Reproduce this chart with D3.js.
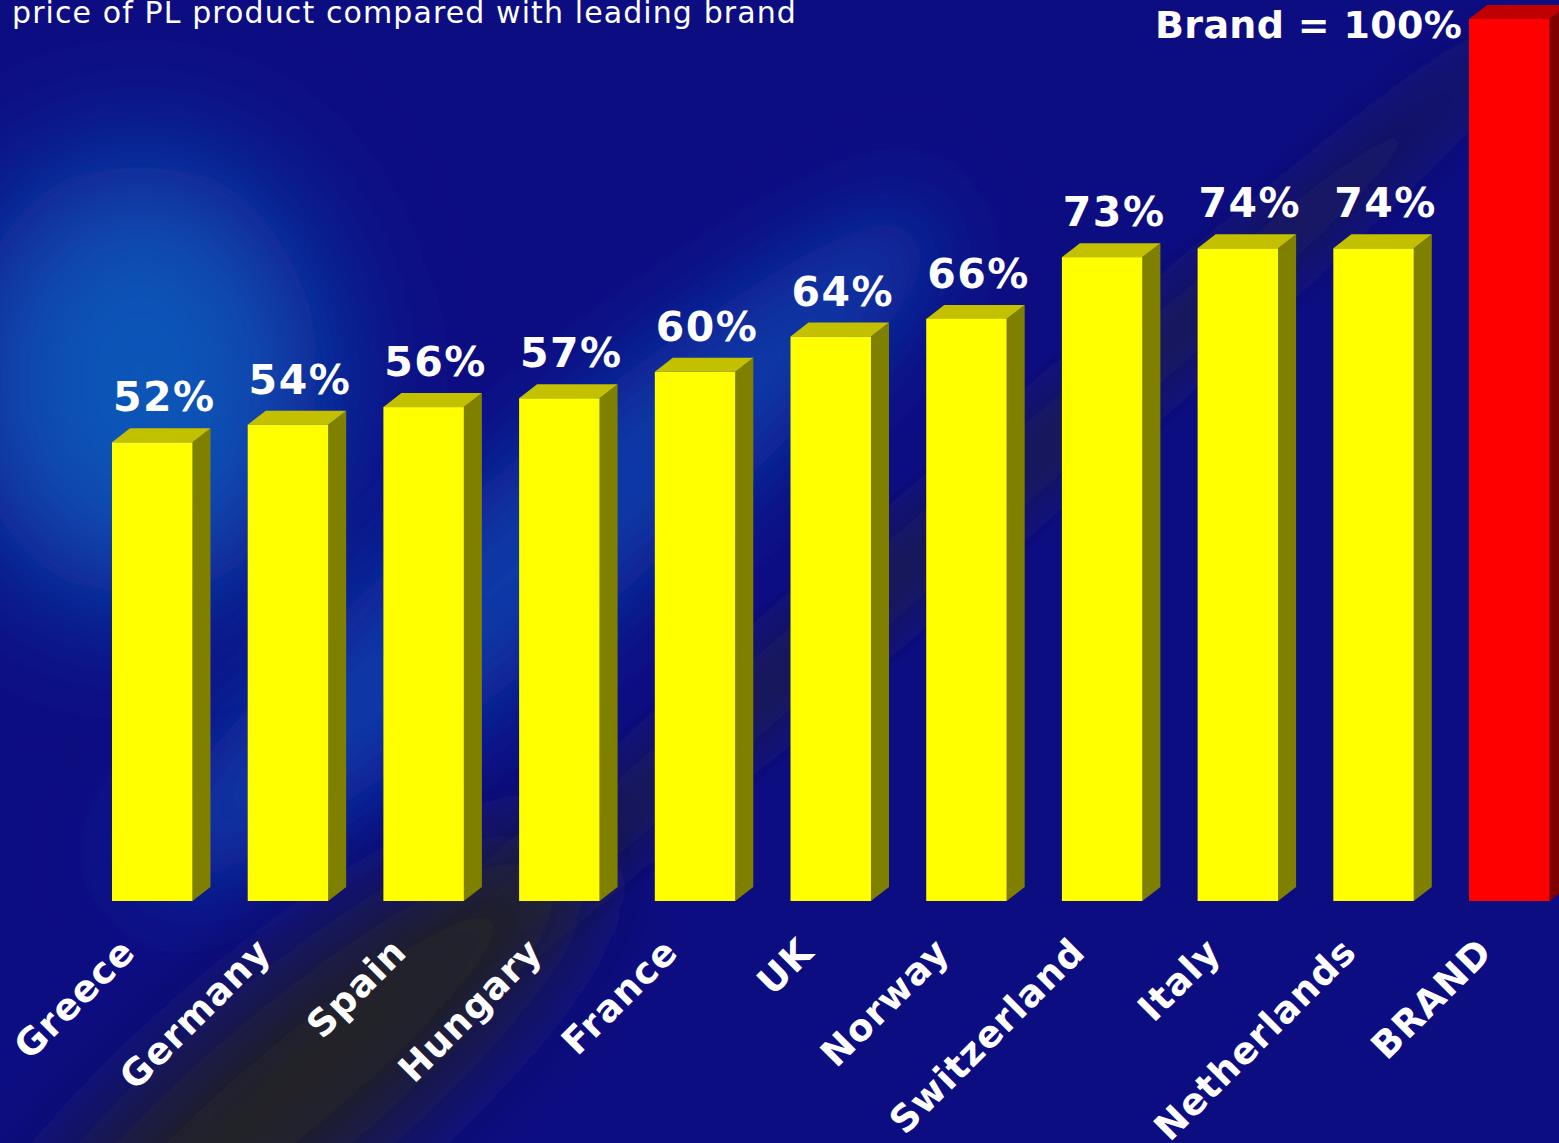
<!DOCTYPE html>
<html>
<head>
<meta charset="utf-8">
<script src="https://cdn.jsdelivr.net/npm/d3@7"></script>
<style>
  html, body { margin: 0; padding: 0; background: #0d0d80; overflow: hidden; }
  svg { display: block; }
  text { font-family: Verdana, "DejaVu Sans", sans-serif; fill: #ffffff; }
</style>
</head>
<body>
<svg id="chart"></svg>
<script>
// data
var categories = ["Greece", "Germany", "Spain", "Hungary", "France", "UK", "Norway", "Switzerland", "Italy", "Netherlands", "BRAND"];
var values = [52, 54, 56, 57, 60, 64, 66, 73, 74, 74, 100];
var valueLabels = ["52%", "54%", "56%", "57%", "60%", "64%", "66%", "73%", "74%", "74%", ""];
var titleText = "price of PL product compared with leading brand";
var brandText = "Brand = 100%";

var width = 1559, height = 1143;
var depthX = 18, depthY = 14;

var svg = d3.select("#chart")
    .attr("width", width)
    .attr("height", height);

var defs = svg.append("defs");
[["blurBig", 70], ["blurMid", 45], ["blurSmall", 28]].forEach(function (f) {
    defs.append("filter").attr("id", f[0])
        .attr("x", "-50%").attr("y", "-50%").attr("width", "200%").attr("height", "200%")
        .append("feGaussianBlur").attr("stdDeviation", f[1]);
});

// background texture (navy, light glow on the left, diagonal fold)
var bg = svg.append("g");
bg.append("rect").attr("width", width).attr("height", height).attr("fill", "#0d0d82");
bg.append("ellipse")
    .attr("cx", 540).attr("cy", 550).attr("rx", 520).attr("ry", 85)
    .attr("transform", "rotate(-40 540 550)")
    .attr("fill", "#0f3aa8").attr("filter", "url(#blurMid)");
bg.append("ellipse")
    .attr("cx", 140).attr("cy", 380).attr("rx", 180).attr("ry", 220)
    .attr("fill", "#0b55b8").attr("filter", "url(#blurBig)");
bg.append("ellipse")
    .attr("cx", 880).attr("cy", 590).attr("rx", 850).attr("ry", 32)
    .attr("transform", "rotate(-41 880 590)")
    .attr("fill", "#1c1c50").attr("filter", "url(#blurSmall)");
bg.append("ellipse")
    .attr("cx", 290).attr("cy", 1090).attr("rx", 380).attr("ry", 95)
    .attr("transform", "rotate(-40 290 1090)")
    .attr("fill", "#242428").attr("filter", "url(#blurMid)");

// scales
var x = d3.scaleBand()
    .domain(categories)
    .range([112, 1549.5])
    .paddingInner(0.407)
    .paddingOuter(0);

var y = d3.scaleLinear()
    .domain([0, 100])
    .range([901, 19]);

var colours = function (d) {
    if (d.cat === "BRAND") return { front: "#ff0000", top: "#c00000", side: "#800000" };
    return { front: "#ffff00", top: "#c3c000", side: "#808000" };
};

var data = categories.map(function (c, i) {
    return { cat: c, value: values[i], label: valueLabels[i] };
});

// 3d bars
var bars = svg.append("g").selectAll("g")
    .data(data)
    .join("g");

// right side
bars.append("polygon")
    .attr("points", function (d) {
        var x1 = x(d.cat) + x.bandwidth(), y0 = y(0), y1 = y(d.value);
        return [[x1, y0], [x1, y1], [x1 + depthX, y1 - depthY], [x1 + depthX, y0 - depthY]].join(" ");
    })
    .attr("fill", function (d) { return colours(d).side; });

// top
bars.append("polygon")
    .attr("points", function (d) {
        var x0 = x(d.cat), x1 = x0 + x.bandwidth(), y1 = y(d.value);
        return [[x0, y1], [x1, y1], [x1 + depthX, y1 - depthY], [x0 + depthX, y1 - depthY]].join(" ");
    })
    .attr("fill", function (d) { return colours(d).top; });

// front
bars.append("rect")
    .attr("x", function (d) { return x(d.cat); })
    .attr("y", function (d) { return y(d.value); })
    .attr("width", x.bandwidth())
    .attr("height", function (d) { return y(0) - y(d.value); })
    .attr("fill", function (d) { return colours(d).front; });

// value labels
svg.append("g").selectAll("text")
    .data(data.filter(function (d) { return d.label !== ""; }))
    .join("text")
    .attr("x", function (d) { return x(d.cat) + x.bandwidth() / 2 + 12; })
    .attr("y", function (d) { return y(d.value) - 31; })
    .attr("text-anchor", "middle")
    .attr("font-size", 41)
    .attr("font-weight", "bold")
    .attr("letter-spacing", 1.5)
    .text(function (d) { return d.label; });

// category labels, rotated
svg.append("g").selectAll("text")
    .data(data)
    .join("text")
    .attr("transform", function (d) {
        var cx = x(d.cat) + x.bandwidth() / 2 - 15;
        return "translate(" + cx + ",954) rotate(-45)";
    })
    .attr("text-anchor", "end")
    .attr("font-size", 37)
    .attr("font-weight", "bold")
    .attr("letter-spacing", 1)
    .text(function (d) { return d.cat; });

// title (cut off at top like the slide)
svg.append("text")
    .attr("x", 12)
    .attr("y", 23)
    .attr("font-size", 30)
    .attr("letter-spacing", 1.1)
    .text(titleText);

// brand label
svg.append("text")
    .attr("x", x("BRAND") - 7)
    .attr("y", 38)
    .attr("text-anchor", "end")
    .attr("font-size", 38)
    .attr("font-weight", "bold")
    .attr("letter-spacing", 0.3)
    .text(brandText);
</script>
</body>
</html>
